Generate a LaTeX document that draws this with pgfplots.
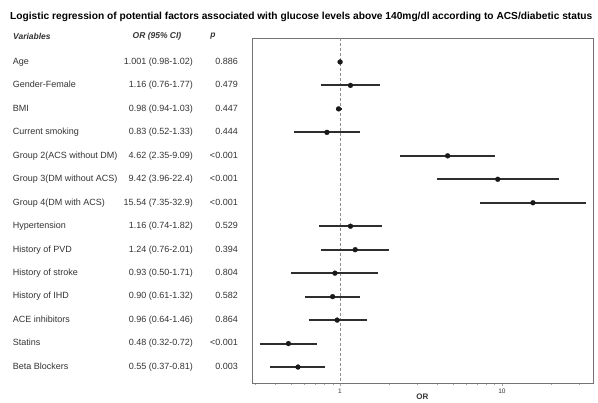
\documentclass[border=0pt]{standalone}
\usepackage{fontspec}
\setmainfont{Liberation Sans}
\usepackage{pgfplots}
\pgfplotsset{compat=1.18}
\newcommand\rowlab[3]{\makebox[180pt][l]{#1}\llap{#2}\makebox[45pt][r]{#3}}
\definecolor{txt}{HTML}{333333}
\definecolor{bar}{HTML}{2E2E2E}
\begin{document}
\begin{tikzpicture}
\begin{axis}[
  scale only axis, width=341pt, height=345pt,
  xmode=log, xmin=0.286, xmax=36.5,
  ymin=-0.02, ymax=14.68, y dir=reverse,
  cycle list={{bar, solid, no marks}},
  axis line style={draw=black!55, line width=0.8pt},
  xtick={1,10}, xticklabels={1,10},
  minor xtick={0.3,0.4,0.5,0.6,0.7,0.8,0.9,2,3,4,5,6,7,8,9,20,30},
  xtick pos=bottom, tick align=outside,
  major tick length=3pt, minor tick length=2pt,
  x tick style={draw=black!35},
  xticklabel style={font=\fontsize{6.5}{7}\selectfont, text=txt, inner sep=1pt, yshift=-2pt},
  xlabel={\textbf{OR}},
  xlabel style={font=\fontsize{8}{9}\selectfont, text=txt, inner sep=0pt, yshift=1pt},
  ytick={1,...,14},
  y tick style={draw=none},
  yticklabel style={anchor=east, inner sep=0pt, xshift=-11pt, font=\fontsize{9}{10}\selectfont, text=txt},
  yticklabels={
    {\rowlab{Age}{1.001 (0.98-1.02)}{0.886}},
    {\rowlab{Gender-Female}{1.16 (0.76-1.77)}{0.479}},
    {\rowlab{BMI}{0.98 (0.94-1.03)}{0.447}},
    {\rowlab{Current smoking}{0.83 (0.52-1.33)}{0.444}},
    {\rowlab{Group 2(ACS without DM)}{4.62 (2.35-9.09)}{<0.001}},
    {\rowlab{Group 3(DM without ACS)}{9.42 (3.96-22.4)}{<0.001}},
    {\rowlab{Group 4(DM with ACS)}{15.54 (7.35-32.9)}{<0.001}},
    {\rowlab{Hypertension}{1.16 (0.74-1.82)}{0.529}},
    {\rowlab{History of PVD}{1.24 (0.76-2.01)}{0.394}},
    {\rowlab{History of stroke}{0.93 (0.50-1.71)}{0.804}},
    {\rowlab{History of IHD}{0.90 (0.61-1.32)}{0.582}},
    {\rowlab{ACE inhibitors}{0.96 (0.64-1.46)}{0.864}},
    {\rowlab{Statins}{0.48 (0.32-0.72)}{<0.001}},
    {\rowlab{Beta Blockers}{0.55 (0.37-0.81)}{0.003}}
  },
  clip=false,
  ci/.style={bar, line width=2pt, no marks, solid},
]
\addplot[black!45, no marks, dash pattern=on 3pt off 2pt, line width=0.6pt] coordinates {(1,-0.02) (1,14.68)};
\addplot[ci] coordinates {(0.98,1) (1.02,1)};
\addplot[ci] coordinates {(0.76,2) (1.77,2)};
\addplot[ci] coordinates {(0.94,3) (1.03,3)};
\addplot[ci] coordinates {(0.52,4) (1.33,4)};
\addplot[ci] coordinates {(2.35,5) (9.09,5)};
\addplot[ci] coordinates {(3.96,6) (22.4,6)};
\addplot[ci] coordinates {(7.35,7) (32.9,7)};
\addplot[ci] coordinates {(0.74,8) (1.82,8)};
\addplot[ci] coordinates {(0.76,9) (2.01,9)};
\addplot[ci] coordinates {(0.50,10) (1.71,10)};
\addplot[ci] coordinates {(0.61,11) (1.32,11)};
\addplot[ci] coordinates {(0.64,12) (1.46,12)};
\addplot[ci] coordinates {(0.32,13) (0.72,13)};
\addplot[ci] coordinates {(0.37,14) (0.81,14)};
\addplot[only marks, mark=*, mark size=2.5pt, draw=black!90, fill=black!90, mark options={solid, fill=black!90, draw=black!90, line width=0.2pt}] coordinates {
 (1.001,1) (1.16,2) (0.98,3) (0.83,4) (4.62,5) (9.42,6) (15.54,7)
 (1.16,8) (1.24,9) (0.93,10) (0.90,11) (0.96,12) (0.48,13) (0.55,14)};
\coordinate (TL) at (axis cs:0.286,-0.02);
\coordinate (BR) at (axis cs:36.5,14.68);
\end{axis}
\node[anchor=west, inner sep=0pt, font=\bfseries\fontsize{10.2}{12}\selectfont] at ([xshift=-242pt,yshift=21pt]TL) {Logistic regression of potential factors associated with glucose levels above 140mg/dl according to ACS/diabetic status};
\node[anchor=west, inner sep=0pt, font=\bfseries\itshape\fontsize{8.5}{9}\selectfont, text=txt] at ([xshift=-239pt,yshift=2pt]TL) {Variables};
\node[inner sep=0pt, font=\bfseries\itshape\fontsize{8.5}{9}\selectfont, text=txt] at ([xshift=-95pt,yshift=2pt]TL) {OR (95\% CI)};
\node[inner sep=0pt, font=\bfseries\itshape\fontsize{8.5}{9}\selectfont, text=txt] at ([xshift=-39pt,yshift=2pt]TL) {p};
\pgfresetboundingbox
\path[use as bounding box] ([xshift=-252pt,yshift=38pt]TL) rectangle ([xshift=5pt,yshift=-20pt]BR);
\end{tikzpicture}
\end{document}
